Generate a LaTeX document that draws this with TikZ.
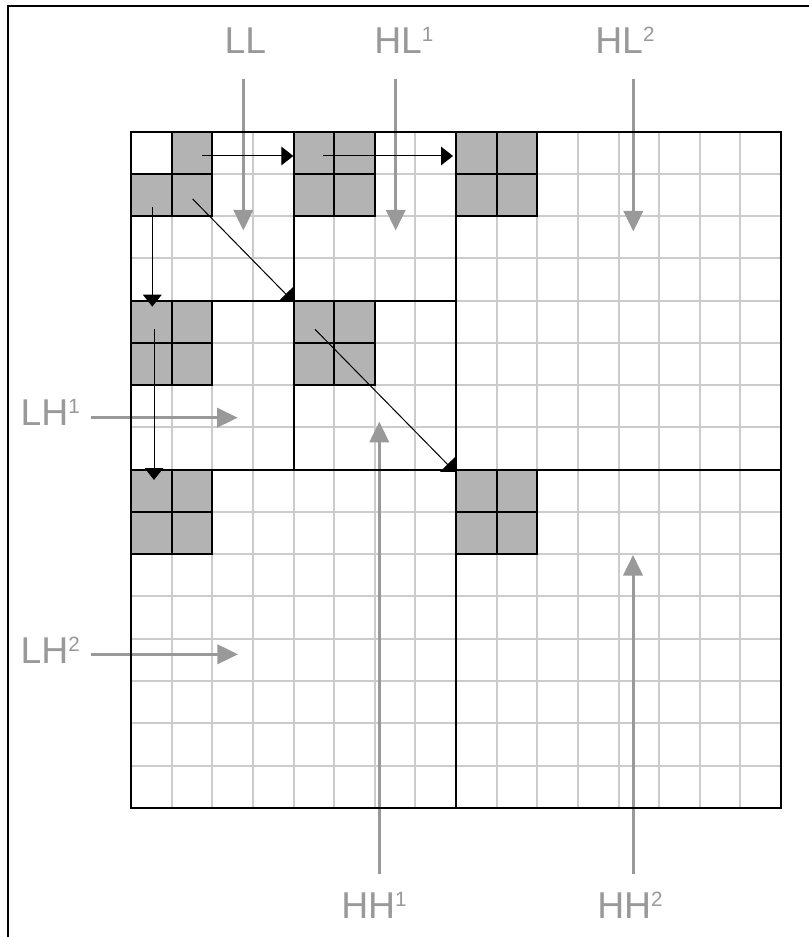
\documentclass[tikz,border=0pt]{standalone}
\usepackage{fontspec}
\setmainfont{Liberation Sans}
\usetikzlibrary{arrows.meta}
\definecolor{cellgray}{RGB}{179,179,179}
\definecolor{gridgray}{RGB}{204,204,204}
\definecolor{bandgray}{RGB}{153,153,153}
\newcommand{\lvl}[1]{\raisebox{9pt}{\fontsize{15.5}{16}\selectfont #1}}

\begin{document}
\begin{tikzpicture}[x=0.75pt,y=-0.75pt,
  band/.style={text=bandgray, inner sep=0pt, anchor=base west, font=\fontsize{28}{30}\selectfont},
  grayarr/.style={draw=bandgray, line width=2.25pt, -{Triangle[length=15.5pt,width=14.5pt]}},
  blackarr/.style={line width=0.75pt, -{Triangle[length=9pt,width=14pt]}},
  diagarr/.style={line width=0.75pt, -{Triangle[length=8pt,width=16pt]}},
  gridline/.style={draw=gridgray, line width=1.5pt},
  bandline/.style={draw=black, line width=1.5pt},
  coef/.style={fill=cellgray, draw=black, line width=1.5pt}]
  \useasboundingbox (0,0) rectangle (809,937);
  \fill[white] (0,0) rectangle (809,937);
  % frame
  \draw[line width=1.5pt] (8,937) -- (8,6) -- (809,6);

  % labels
  \node[band] (ll)  at (224.3,53.3) {LL};
  \node[band] (hl1) at (374,53.3) {HL\lvl{1}};
  \node[band] (hl2) at (595,53.3) {HL\lvl{2}};
  \node[band] (lh1) at (20.3,425) {LH\lvl{1}};
  \node[band] (lh2) at (20.3,663) {LH\lvl{2}};
  \node[band] (hh1) at (341,918.3) {HH\lvl{1}};
  \node[band] (hh2) at (597,918.3) {HH\lvl{2}};

  % arrow ends
  \coordinate (ll-s)  at (243.3,79);   \coordinate (ll-t)  at (243.3,230.5);
  \coordinate (hl1-s) at (395.7,79);   \coordinate (hl1-t) at (395.7,230.5);
  \coordinate (hl2-s) at (633.3,79);   \coordinate (hl2-t) at (633.3,231.5);
  \coordinate (lh1-s) at (90.7,417.7); \coordinate (lh1-t) at (237.7,417.7);
  \coordinate (lh2-s) at (91,654.3);   \coordinate (lh2-t) at (238,654.3);
  \coordinate (hh1-s) at (379.3,874);  \coordinate (hh1-t) at (379.3,421.7);
  \coordinate (hh2-s) at (633,874);    \coordinate (hh2-t) at (633,555);

  % grid
  \begin{scope}[shift={(131,131.7)}, x=30.47pt, y=-31.69pt]
    \foreach \i in {1,...,15} {
      \draw[gridline] (\i,0) -- (\i,16);
      \draw[gridline] (0,\i) -- (16,\i);
    }
  \end{scope}

  % subbands
  \draw[grayarr] (ll-s) -- (ll-t);
  \draw[grayarr] (hl1-s) -- (hl1-t);
  \draw[grayarr] (hl2-s) -- (hl2-t);
  \draw[grayarr] (lh1-s) -- (lh1-t);
  \draw[grayarr] (lh2-s) -- (lh2-t);
  \draw[grayarr] (hh1-s) -- (hh1-t);
  \draw[grayarr] (hh2-s) -- (hh2-t);

  \begin{scope}[shift={(131,131.7)}, x=30.47pt, y=-31.69pt]
    % coefficients
    \foreach \c/\r in {1/0,0/1,1/1}
      \draw[coef] (\c,\r) rectangle ++(1,1);
    \foreach \bc/\br in {4/0,8/0,0/4,4/4,0/8,8/8}
      \foreach \dc in {0,1}
        \foreach \dr in {0,1}
          \draw[coef] (\bc+\dc,\br+\dr) rectangle ++(1,1);
    % band borders
    \draw[bandline] (0,0) rectangle (16,16);
    \draw[bandline] (8,0) -- (8,16) (0,8) -- (16,8);
    \draw[bandline] (4,0) -- (4,8) (0,4) -- (8,4);
  \end{scope}

  % parent -> children
  \coordinate (r1s) at (202,156);     \coordinate (r1t) at (293.3,156);
  \coordinate (r2s) at (323,156);     \coordinate (r2t) at (453,156);
  \coordinate (d1s) at (152.3,207.3); \coordinate (d1t) at (152.3,306.7);
  \coordinate (d2s) at (154,329.3);   \coordinate (d2t) at (154,480);
  \coordinate (g1s) at (192.7,199);   \coordinate (g1t) at (293.3,301.7);
  \coordinate (g2s) at (315,329.3);   \coordinate (g2t) at (455,472);
  \draw[blackarr] (r1s) -- (r1t);
  \draw[blackarr] (r2s) -- (r2t);
  \draw[blackarr] (d1s) -- (d1t);
  \draw[blackarr] (d2s) -- (d2t);
  \draw[diagarr] (g1s) -- (g1t);
  \draw[diagarr] (g2s) -- (g2t);
\end{tikzpicture}
\end{document}
